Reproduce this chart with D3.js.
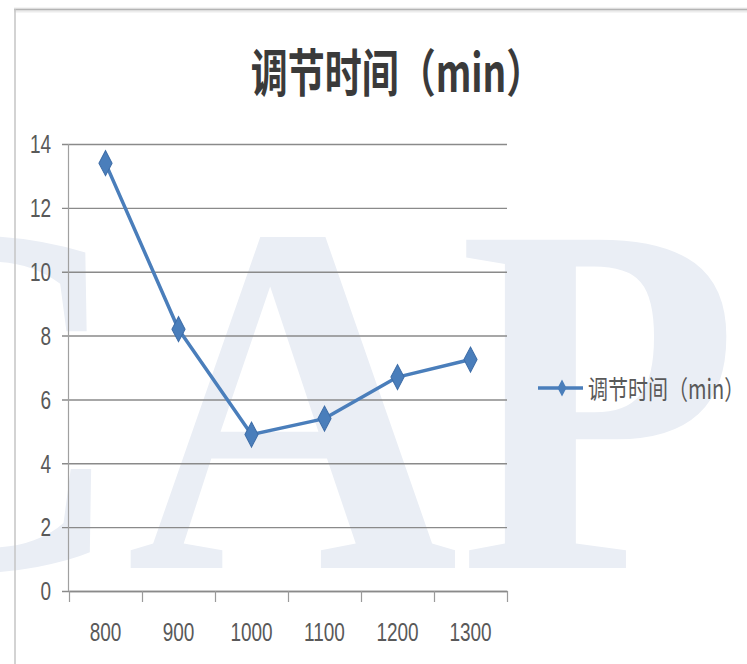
<!DOCTYPE html>
<html>
<head>
<meta charset="utf-8">
<script src="https://cdn.jsdelivr.net/npm/d3@7"></script>
<style>
  html, body { margin: 0; padding: 0; background: #ffffff; }
  svg { display: block; }
</style>
</head>
<body>
<svg id="chart" width="747" height="664"></svg>
<script>
// Chart data
const categories = ["800", "900", "1000", "1100", "1200", "1300"];
const seriesName = "调节时间（min）";
const values = [13.4, 8.2, 4.9, 5.4, 6.7, 7.25];
const yTicks = [0, 2, 4, 6, 8, 10, 12, 14];
const chartTitle = "调节时间（min）";
const watermark = "CAP";

const W = 747, H = 664;
const svg = d3.select("#chart");
const lineColor = "#4a7ebb";
const labelColor = "#595959";
const gridColor = "#8a8a8a";
const stretch = 1.32;   // tall glyph proportion used for all text

// Faint background mark
svg.append("text")
  .attr("transform", "translate(-206,568) scale(1,1.09)")
  .attr("font-family", "'Liberation Serif', 'DejaVu Serif', serif")
  .attr("font-weight", "bold")
  .attr("font-size", 460)
  .attr("fill", "#eaeef5")
  .text(watermark);

// Frame
svg.append("line").attr("x1", 14).attr("x2", W).attr("y1", 10).attr("y2", 10)
  .attr("stroke", "#ececec").attr("stroke-width", 5);
svg.append("line").attr("x1", 14).attr("x2", W).attr("y1", 9.5).attr("y2", 9.5)
  .attr("stroke", "#b4b4b4").attr("stroke-width", 1.5);
svg.append("line").attr("x1", 15).attr("x2", 15).attr("y1", 9).attr("y2", H)
  .attr("stroke", "#c4c4c4").attr("stroke-width", 1.5);

// Scales
const x = d3.scaleBand().domain(categories).range([69, 507]).paddingInner(0).paddingOuter(0);
const y = d3.scaleLinear().domain([0, 14]).range([591, 144]);
const xEdge = d3.scaleLinear().domain([0, categories.length]).range(x.range());

// Horizontal gridlines with left tick marks and labels
const yAxis = svg.append("g")
  .attr("transform", "translate(69,0)")
  .call(d3.axisLeft(y).tickValues(yTicks).tickSize(-(507 - 69)).tickSizeOuter(0).tickFormat(d3.format("d")));
yAxis.select(".domain").remove();
yAxis.selectAll(".tick line")
  .attr("x1", -7)
  .attr("stroke", gridColor).attr("stroke-width", 1.4);
yAxis.selectAll(".tick text")
  .attr("x", -18).attr("dy", "0.35em")
  .attr("transform", `scale(1,${stretch})`)
  .attr("font-family", "'Liberation Sans Narrow', 'Liberation Sans', Arial, sans-serif")
  .attr("font-size", 19)
  .attr("fill", labelColor);

// Vertical axis line
svg.append("line").attr("x1", 68.5).attr("x2", 68.5).attr("y1", 144).attr("y2", 591)
  .attr("stroke", "#a0a0a0").attr("stroke-width", 1.2);

// Category tick marks on band edges
const xTicksG = svg.append("g")
  .attr("transform", "translate(0,591)")
  .call(d3.axisBottom(xEdge).tickValues(d3.range(categories.length + 1)).tickSize(11).tickSizeOuter(0).tickFormat(""));
xTicksG.select(".domain").attr("stroke", gridColor).attr("stroke-width", 1.4);
xTicksG.selectAll(".tick line").attr("stroke", "#9a9a9a").attr("stroke-width", 1.2);

// Category labels
const xLabels = svg.append("g")
  .attr("transform", "translate(0,632)")
  .call(d3.axisBottom(x).tickSize(0));
xLabels.select(".domain").remove();
xLabels.selectAll(".tick text")
  .attr("y", 0).attr("dy", "0.35em")
  .attr("transform", `scale(1,${stretch})`)
  .attr("font-family", "'Liberation Sans Narrow', 'Liberation Sans', Arial, sans-serif")
  .attr("font-size", 19)
  .attr("fill", labelColor);

// Series line
const pts = categories.map((c, i) => ({ c, v: values[i] }));
const line = d3.line().x(d => x(d.c) + x.bandwidth() / 2).y(d => y(d.v));
svg.append("path").datum(pts)
  .attr("d", line)
  .attr("fill", "none")
  .attr("stroke", lineColor)
  .attr("stroke-width", 3.5)
  .attr("stroke-linejoin", "round");

// Diamond markers
const diamond = d3.symbol().type(d3.symbolDiamond).size(150);
svg.append("g").selectAll("path").data(pts).join("path")
  .attr("d", diamond)
  .attr("transform", d => `translate(${x(d.c) + x.bandwidth() / 2},${y(d.v)}) scale(1,1.1)`)
  .attr("fill", lineColor)
  .attr("stroke", "#3f6ea8")
  .attr("stroke-width", 1);

// Title
svg.append("text")
  .attr("transform", `translate(397,70) scale(1,1.38)`)
  .attr("text-anchor", "middle")
  .attr("dominant-baseline", "central")
  .attr("font-family", "'Noto Sans CJK SC', 'Noto Sans', sans-serif")
  .attr("font-weight", "bold")
  .attr("font-size", 37)
  .attr("fill", "#3a3a3a")
  .text(chartTitle);

// Legend
const lg = svg.append("g").attr("transform", "translate(538,388)");
lg.append("line").attr("x1", 0).attr("x2", 45).attr("y1", 0).attr("y2", 0)
  .attr("stroke", lineColor).attr("stroke-width", 3.5);
lg.append("path")
  .attr("d", d3.symbol().type(d3.symbolDiamond).size(70))
  .attr("transform", "translate(24,0) scale(1,1.1)")
  .attr("fill", lineColor);
lg.append("text")
  .attr("transform", `translate(50,0) scale(1,${stretch})`)
  .attr("dominant-baseline", "central")
  .attr("font-family", "'Noto Sans CJK SC', 'Noto Sans', sans-serif")
  .attr("font-size", 20)
  .attr("fill", labelColor)
  .text(seriesName);
</script>
</body>
</html>
